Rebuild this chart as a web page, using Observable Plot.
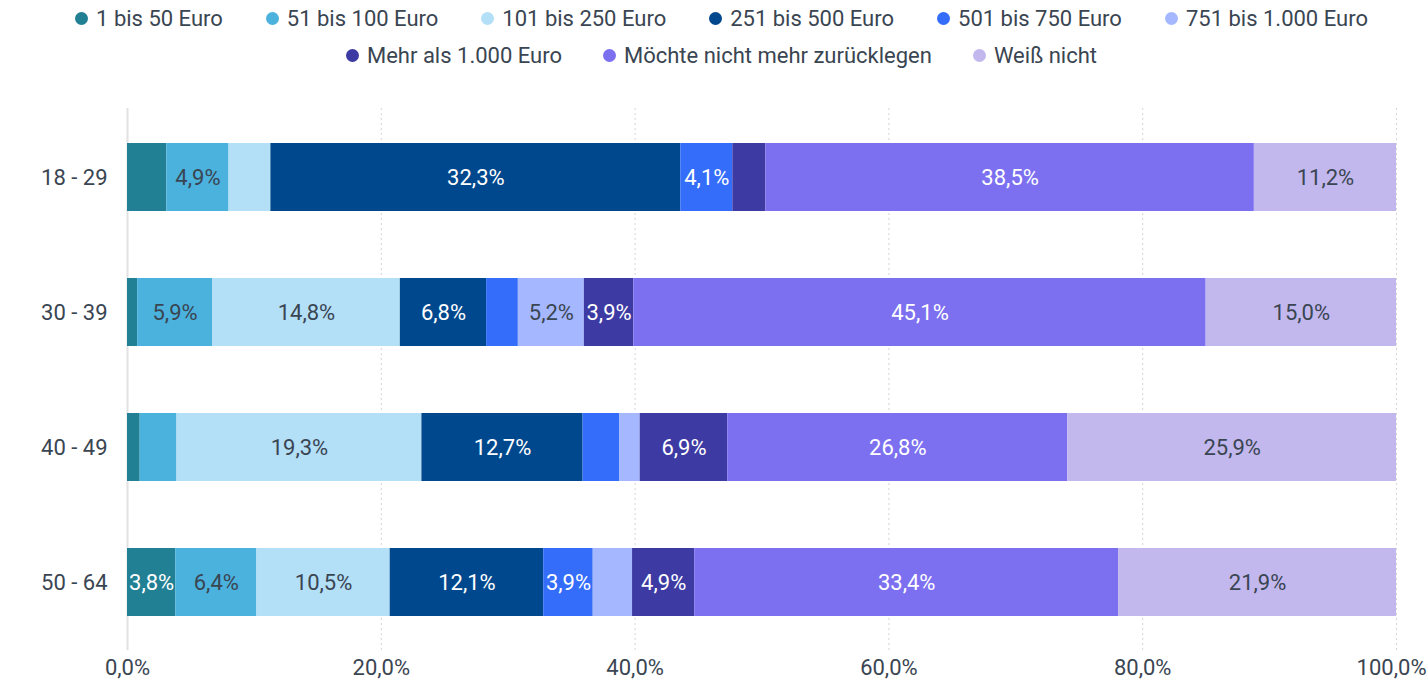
<!DOCTYPE html>
<html><head><meta charset="utf-8">
<script src="https://cdn.jsdelivr.net/npm/d3@7"></script>
<script src="https://cdn.jsdelivr.net/npm/@observablehq/plot@0.6"></script>
<style>
body{margin:0;background:#fff;font-family:Roboto,sans-serif;}
#legend{width:1427px;height:80px;padding-left:16px;box-sizing:border-box;}
.row{display:flex;justify-content:center;height:37px;align-items:center;gap:41px;}
.row.first{gap:43px;}
.item{display:flex;align-items:center;font-size:22px;color:#3a4552;white-space:nowrap;}
.dot{width:13px;height:13px;border-radius:50%;margin-right:8px;}
</style></head><body>
<div id="legend"></div>
<div id="chart"></div>
<script>
const categories = ["1 bis 50 Euro","51 bis 100 Euro","101 bis 250 Euro","251 bis 500 Euro","501 bis 750 Euro","751 bis 1.000 Euro","Mehr als 1.000 Euro","Möchte nicht mehr zurücklegen","Weiß nicht"];
const colors = ["#218093","#4bb2de","#b3dff7","#00488d","#336dfa","#a5b8ff","#3d3aa3","#7c70f0","#c2b8ee"];
const darkLabelCats = ["51 bis 100 Euro","101 bis 250 Euro","751 bis 1.000 Euro","Weiß nicht"];
const ages = ["18 - 29","30 - 39","40 - 49","50 - 64"];
const v1829 = [3.1,4.9,3.3,32.3,4.1,0,2.6,38.5,11.2];
const v3039 = [0.8,5.9,14.8,6.8,2.5,5.2,3.9,45.1,15.0];
const v4049 = [1.0,2.9,19.3,12.7,2.9,1.6,6.9,26.8,25.9];
const v5064 = [3.8,6.4,10.5,12.1,3.9,3.1,4.9,33.4,21.9];
const xTicks = [0,20,40,60,80,100];

const series = [v1829,v3039,v4049,v5064];
const data = [];
ages.forEach((a,i)=>categories.forEach((c,j)=>data.push({age:a,cat:c,value:series[i][j]})));

// legend
const rows = [categories.slice(0,6), categories.slice(6)];
const leg = document.getElementById("legend");
rows.forEach((r,ri)=>{
  const row = document.createElement("div"); row.className = ri === 0 ? "row first" : "row";
  r.forEach(c=>{
    const it=document.createElement("div");it.className="item";
    const d=document.createElement("span");d.className="dot";d.style.background=colors[categories.indexOf(c)];
    it.appendChild(d);it.appendChild(document.createTextNode(c));row.appendChild(it);
  });
  leg.appendChild(row);
});

const fmt = v => v.toFixed(1).replace(".", ",") + "%";
const lab = (dark) => d => (d.value >= 3.5 && darkLabelCats.includes(d.cat) === dark) ? fmt(d.value) : "";

const chart = Plot.plot({
  width: 1427, height: 605,
  marginTop: 28, marginBottom: 35, marginLeft: 127, marginRight: 31,
  style: {fontFamily: "Roboto, sans-serif", fontSize: "22px", color: "#3a4552", background: "#fff"},
  x: {domain: [0,100], label: null},
  y: {domain: ages, label: null, paddingInner: 0.5, paddingOuter: 0.25},
  color: {domain: categories, range: colors},
  marks: [
    Plot.ruleX(xTicks.filter(t=>t>0), {stroke: "#d4d4d4", strokeDasharray: "2,3", strokeWidth: 1}),
    Plot.ruleX([0], {stroke: "#e2e2e2", strokeWidth: 2}),
    Plot.barX(data, {x: "value", y: "age", fill: "cat", order: null}),
    Plot.text(data, Plot.stackX({x: "value", y: "age", z: "cat", order: null, text: lab(true), fill: "#3a4552", fontSize: 22})),
    Plot.text(data, Plot.stackX({x: "value", y: "age", z: "cat", order: null, text: lab(false), fill: "white", fontSize: 22})),
    Plot.axisX({ticks: xTicks.slice(0, -1), tickFormat: fmt, tickSize: 0, tickPadding: 9, fontSize: 22, label: null, fill: "#3a4552"}),
    Plot.axisX({ticks: xTicks.slice(-1), tickFormat: fmt, tickSize: 0, tickPadding: 9, fontSize: 22, label: null, fill: "#3a4552", textAnchor: "end", dx: 30}),
    Plot.axisY({tickSize: 0, tickPadding: 20, fontSize: 22, label: null, fill: "#3a4552"})
  ]
});
document.getElementById("chart").appendChild(chart);
</script></body></html>
